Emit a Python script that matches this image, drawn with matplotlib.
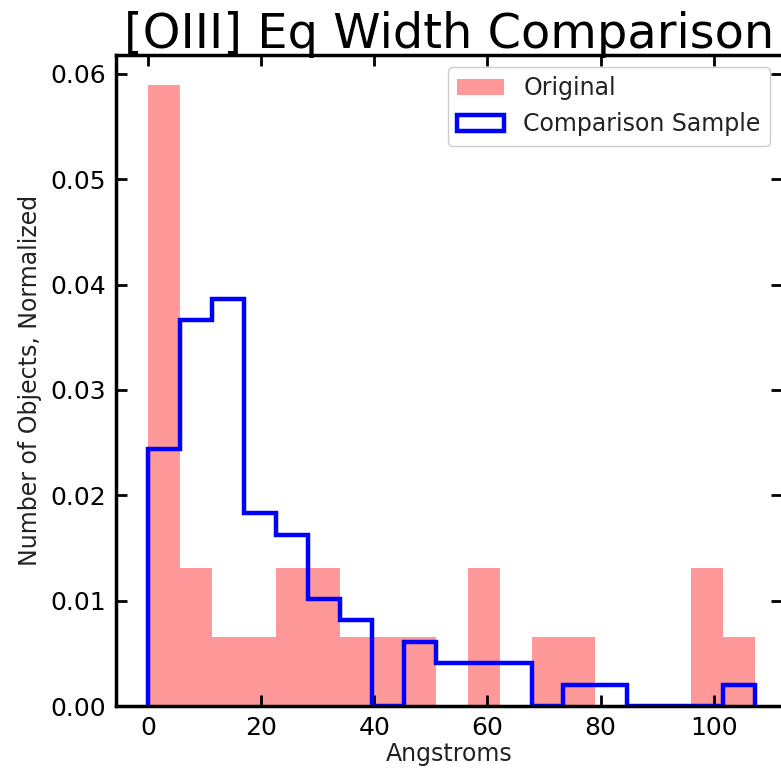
import numpy as np
import matplotlib
matplotlib.use("Agg")
import matplotlib.pyplot as plt

# Shared histogram bin edges (Angstroms)
bin_edges = np.linspace(0.0, 107.35, 20)

# Object counts per bin
original_counts = [9, 2, 1, 1, 2, 2, 1, 1, 1, 0, 2, 0, 1, 1, 0, 0, 0, 2, 1]
comparison_counts = [12, 18, 19, 9, 8, 5, 4, 0, 3, 2, 2, 2, 0, 1, 1, 0, 0, 0, 1]

x_ticks = [0, 20, 40, 60, 80, 100]
y_ticks = [0.00, 0.01, 0.02, 0.03, 0.04, 0.05, 0.06]

bin_centers = 0.5 * (bin_edges[:-1] + bin_edges[1:])

fig = plt.figure(figsize=(7.81, 7.69), dpi=100)
ax = fig.add_axes([116 / 781, 1 - 706 / 769, (782 - 116) / 781, (706 - 55) / 769])

ax.hist(bin_centers, bins=bin_edges, weights=original_counts, density=True,
        color="r", alpha=0.4, label="Original")
ax.hist(bin_centers, bins=bin_edges, weights=comparison_counts, density=True,
        histtype="step", color="b", linewidth=3.2, label="Comparison Sample")

ax.set_xlim(-5.7, 112.1)
ax.set_ylim(0, 0.0618)
ax.set_xticks(x_ticks)
ax.set_yticks(y_ticks)
ax.set_yticklabels([f"{v:.2f}" for v in y_ticks])

ax.tick_params(direction="in", length=8, width=2, labelsize=18,
               top=True, right=True, pad=7)
for sp in ax.spines.values():
    sp.set_linewidth(2.5)

ax.set_xlabel("Angstroms", fontsize=17, color="#222222", labelpad=2)
ax.set_ylabel("Number of Objects, Normalized", fontsize=17, color="#222222",
              labelpad=6)
ax.set_title("[OIII] Eq Width Comparison", fontsize=34.5, pad=5)

leg = ax.legend(loc="upper right", fontsize=17, framealpha=1,
                handlelength=2.0, borderpad=0.4, handletextpad=0.8)
for t in leg.get_texts():
    t.set_color("#222222")

fig.savefig("out.png", dpi=100)
